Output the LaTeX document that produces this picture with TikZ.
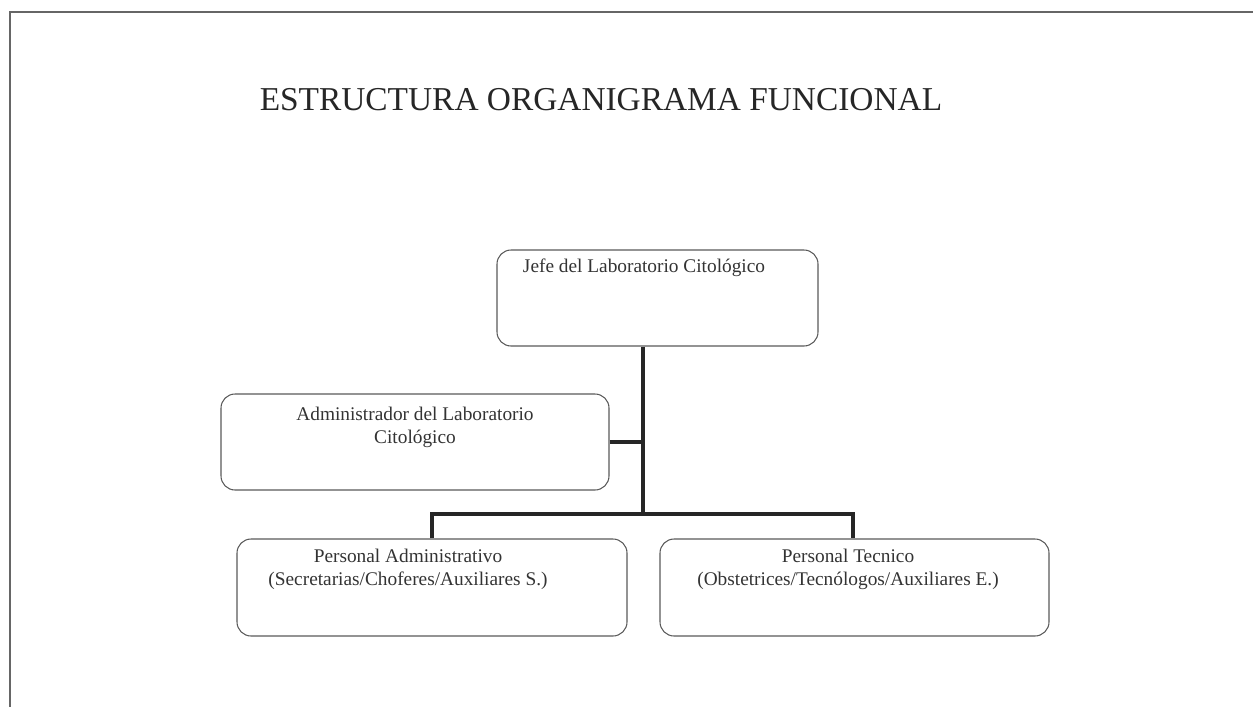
\documentclass[tikz,border=0pt]{standalone}
\usepackage{fontspec}
\setmainfont{Liberation Serif}
\usetikzlibrary{positioning}
\tikzset{
	cajon/.style={draw=black!65, line width=0.6pt, rounded corners=8pt, inner sep=0pt},
	texto/.style={text=black!80, font=\fontsize{11}{13}\selectfont, align=center, inner sep=0pt},
	linea/.style={draw=black!85, line width=2.2pt}
}
\begin{document}
\begin{tikzpicture}
[x=0.02cm, y=-0.02cm, thick]
\useasboundingbox (0,0) rectangle (1253,707);
\def\ba{514}
\draw[black!60, line width=1pt] (1253,12) -- (10,12) -- (10,707);
\node[text=black!85, font=\fontsize{19}{22}\selectfont, inner sep=0pt] (titulo) at (601,100) {ESTRUCTURA ORGANIGRAMA FUNCIONAL};
\node[cajon, minimum width=321*0.02cm, minimum height=96*0.02cm] (jefe) at (657.5,298) {};
\node[cajon, minimum width=388*0.02cm, minimum height=96*0.02cm] (admin) at (415,442) {};
\node[cajon, minimum width=390*0.02cm, minimum height=97*0.02cm] (padm) at (432,587.5) {};
\node[cajon, minimum width=389*0.02cm, minimum height=97*0.02cm] (ptec) at (854.5,587.5) {};
\node[texto] (jefetxt) at (644,268) {Jefe del Laboratorio Citológico};
\node[texto] (admintxt) at (415,427) {Administrador del Laboratorio\\Citológico};
\node[texto] (padmtxt) at (408,569) {Personal Administrativo\\(Secretarias/Choferes/Auxiliares S.)};
\node[texto] (ptectxt) at (848,569) {Personal Tecnico\\(Obstetrices/Tecnólogos/Auxiliares E.)};
\coordinate (tronco) at (643,\ba);
\coordinate (izq) at (432,\ba);
\coordinate (der) at (853,\ba);
\draw[linea] (tronco |- jefe.south) -- (tronco);
\draw[linea] (admin.east) -- (admin.east -| tronco);
\draw[linea, line join=miter] (padm.north -| izq) -- (izq) -- (der) -- (ptec.north -| der);
\end{tikzpicture}
\end{document}
